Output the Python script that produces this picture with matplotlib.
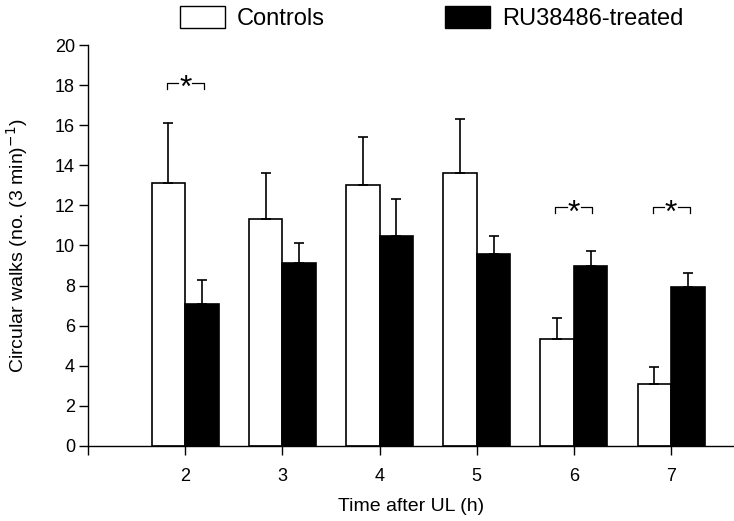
import matplotlib.pyplot as plt
from matplotlib.patches import Patch
import numpy as np

plt.rcParams['font.family'] = ['Liberation Sans', 'DejaVu Sans']

hours = [2, 3, 4, 5, 6, 7]
controls = [13.1, 11.3, 13.0, 13.6, 5.35, 3.1]
controls_err = [3.0, 2.3, 2.4, 2.7, 1.05, 0.85]
treated = [7.1, 9.15, 10.45, 9.6, 9.0, 7.95]
treated_err = [1.2, 0.95, 1.85, 0.85, 0.75, 0.7]
# hours with a significant difference, and bracket height
sig_hours = [2, 6, 7]
sig_levels = [18.1, 11.9, 11.9]

w = 0.345
x = np.array(hours)

fig = plt.figure(figsize=(7.34, 5.21), dpi=100)
ax = fig.add_axes([0.12, 0.144, 0.879, 0.7696])

ax.bar(x - w / 2, controls, w, color='white', edgecolor='black', linewidth=1.2, zorder=2,
       yerr=[np.zeros(len(x)), controls_err], error_kw=dict(ecolor='black', elinewidth=1.2, capsize=3.5, capthick=1.2))
ax.bar(x + w / 2, treated, w, color='black', edgecolor='black', linewidth=1.2, zorder=2,
       yerr=[np.zeros(len(x)), treated_err], error_kw=dict(ecolor='black', elinewidth=1.2, capsize=3.5, capthick=1.2))

for h, lvl in zip(sig_hours, sig_levels):
    ax.plot([h - 0.19, h - 0.19, h - 0.07], [lvl - 0.3, lvl, lvl], color='black', lw=0.9, zorder=3)
    ax.plot([h + 0.07, h + 0.19, h + 0.19], [lvl, lvl, lvl - 0.3], color='black', lw=0.9, zorder=3)
    ax.text(h, lvl - 0.3, '*', ha='center', va='center', fontsize=23, zorder=4)

ax.set_xlim(1, 7.64)
ax.set_ylim(0, 20)
ax.set_xticks([1] + hours)
ax.set_xticklabels([''] + [str(h) for h in hours])
ax.set_yticks(range(0, 21, 2))
ax.tick_params(axis='both', direction='out', length=6.5, width=1, labelsize=13, pad=3)
ax.tick_params(axis='x', pad=9)
for s in ['top', 'right']:
    ax.spines[s].set_visible(False)
for s in ['left', 'bottom']:
    ax.spines[s].set_linewidth(1.0)

ax.set_xlabel('Time after UL (h)', fontsize=14, labelpad=10)
ax.set_ylabel('Circular walks (no. (3 min)$^{-1}$)', fontsize=14, labelpad=18)

handles = [Patch(facecolor='white', edgecolor='black', linewidth=1.0, label='Controls'),
           Patch(facecolor='black', edgecolor='black', label='RU38486-treated')]
fig.legend(handles=handles, loc='upper center', bbox_to_anchor=(0.588, 1.03), ncol=2, frameon=False,
           fontsize=17, handlelength=1.9, handleheight=1.05, columnspacing=5.1, handletextpad=0.5)

fig.savefig('out.png', dpi=100)
